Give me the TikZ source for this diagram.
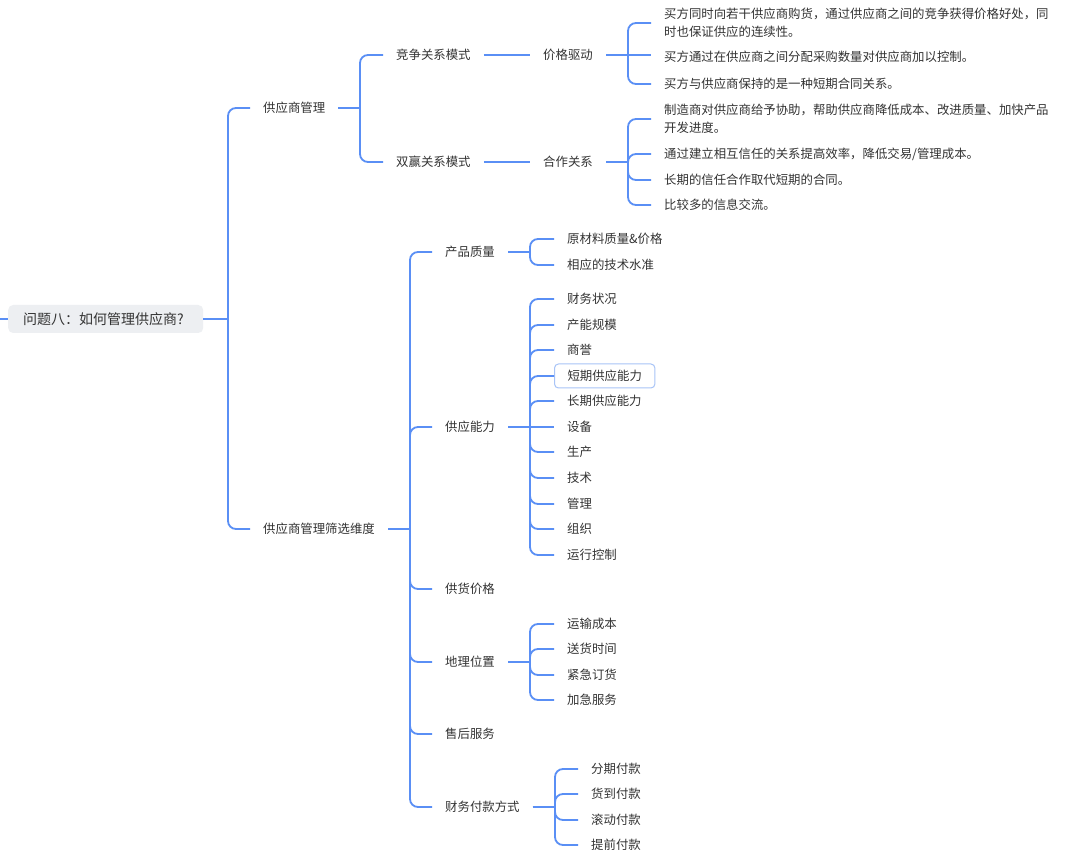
\documentclass[tikz,border=0pt]{standalone}
\usepackage{fontspec}
\setmainfont{Noto Sans CJK SC}
\definecolor{lineblue}{HTML}{5A8FF5}
\definecolor{txt}{HTML}{333333}
\definecolor{rootgray}{HTML}{EDEFF2}
\definecolor{hlblue}{HTML}{A8C4F7}
\newcommand\brc[3]{\draw[conn] (#1.east) -- (#1.east -| #2,0);\draw[conn,rounded corners=8pt] (#1.east -| #2,0) |- (#3.west);}
\begin{document}
\begin{tikzpicture}[x=1pt,y=-1pt,
  t/.style={anchor=west, inner xsep=13pt, inner ysep=2pt, font=\fontsize{12.4}{18}\selectfont, text=txt},
  tl/.style={t, align=left},
  conn/.style={draw=lineblue, line width=1.8pt},
  rootbox/.style={anchor=west, fill=rootgray, rounded corners=5pt, text width=165pt, inner xsep=15pt, minimum height=28pt, font=\fontsize{14}{16}\selectfont, align=left, text=txt},
  hl/.style={draw=hlblue, line width=1pt, rounded corners=4pt, minimum height=24pt}]
\useasboundingbox (0,0) rectangle (1080,858);
\fill[white] (0,0) rectangle (1080,858);

% root
\node[rootbox] (root) at (8,319) {问题八：如何管理供应商?};
\coordinate (lft) at (0,319);
\draw[conn] (lft) -- (root.west);

% level 1
\node[t] (gm) at (250,108) {供应商管理};
\node[t] (sx) at (250,529) {供应商管理筛选维度};
\brc{root}{228}{gm}
\brc{root}{228}{sx}

% upper branch
\node[t] (jz) at (383,55) {竞争关系模式};
\node[t] (sy) at (383,162) {双赢关系模式};
\brc{gm}{360}{jz}
\brc{gm}{360}{sy}
\node[t] (jg) at (530,55) {价格驱动};
\node[t] (hz) at (530,162) {合作关系};
\draw[conn] (jz.east) -- (jg.west);
\draw[conn] (sy.east) -- (hz.west);

\node[tl] (a1) at (651,23) {买方同时向若干供应商购货，通过供应商之间的竞争获得价格好处，同\\时也保证供应的连续性。};
\node[t] (a2) at (651,57) {买方通过在供应商之间分配采购数量对供应商加以控制。};
\node[t] (a3) at (651,84) {买方与供应商保持的是一种短期合同关系。};
\brc{jg}{628}{a1}
\draw[conn] (jg.east) -- (jg.east -| a2.west);
\brc{jg}{628}{a3}

\node[tl] (b1) at (651,119) {制造商对供应商给予协助，帮助供应商降低成本、改进质量、加快产品\\开发进度。};
\node[t] (b2) at (651,154) {通过建立相互信任的关系提高效率，降低交易/管理成本。};
\node[t] (b3) at (651,180) {长期的信任合作取代短期的合同。};
\node[t] (b4) at (651,205) {比较多的信息交流。};
\brc{hz}{628}{b1}
\brc{hz}{628}{b2}
\brc{hz}{628}{b3}
\brc{hz}{628}{b4}

% lower branch
\node[t] (cp) at (432,252) {产品质量};
\node[t] (gy) at (432,427) {供应能力};
\node[t] (gh) at (432,589) {供货价格};
\node[t] (dl) at (432,662) {地理位置};
\node[t] (sh) at (432,734) {售后服务};
\node[t] (cw) at (432,807) {财务付款方式};
\foreach \c in {cp,gy,gh,dl,sh,cw} {\brc{sx}{410}{\c}}

% 产品质量
\node[t] (cp1) at (554,239) {原材料质量\&价格};
\node[t] (cp2) at (554,265) {相应的技术水准};
\foreach \c in {cp1,cp2} {\brc{cp}{530}{\c}}

% 供应能力
\node[t] (g1) at (554,299) {财务状况};
\node[t] (g2) at (554,325) {产能规模};
\node[t] (g3) at (554,350) {商誉};
\node[t,hl] (g4) at (554,376) {短期供应能力};
\node[t] (g5) at (554,401) {长期供应能力};
\node[t] (g6) at (554,427) {设备};
\node[t] (g7) at (554,452) {生产};
\node[t] (g8) at (554,478) {技术};
\node[t] (g9) at (554,504) {管理};
\node[t] (g10) at (554,529) {组织};
\node[t] (g11) at (554,555) {运行控制};
\foreach \c in {g1,g2,g3,g4,g5,g7,g8,g9,g10,g11} {\brc{gy}{530}{\c}}
\draw[conn] (gy.east) -- (g6.west);

% 地理位置
\node[t] (d1) at (554,624) {运输成本};
\node[t] (d2) at (554,649) {送货时间};
\node[t] (d3) at (554,675) {紧急订货};
\node[t] (d4) at (554,700) {加急服务};
\foreach \c in {d1,d2,d3,d4} {\brc{dl}{530}{\c}}

% 财务付款方式
\node[t] (f1) at (578,769) {分期付款};
\node[t] (f2) at (578,794) {货到付款};
\node[t] (f3) at (578,820) {滚动付款};
\node[t] (f4) at (578,845) {提前付款};
\foreach \c in {f1,f2,f3,f4} {\brc{cw}{555}{\c}}
\end{tikzpicture}
\end{document}
